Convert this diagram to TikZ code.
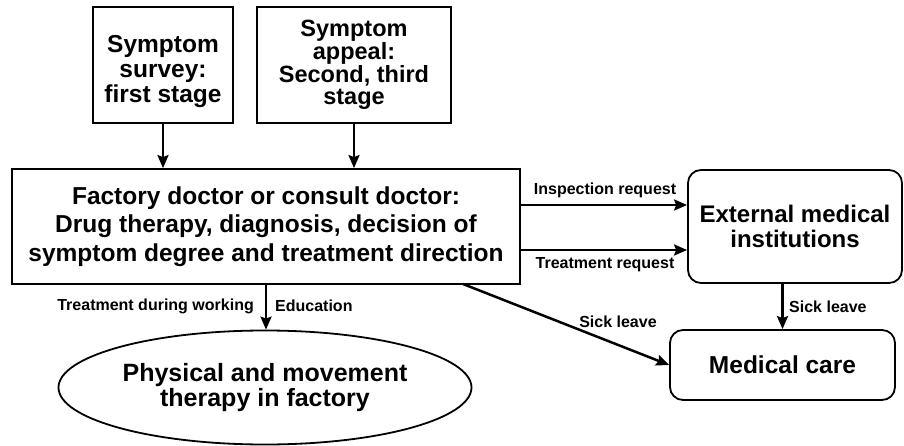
\documentclass[tikz,border=0pt]{standalone}
\usepackage{fontspec}
\setmainfont{Liberation Sans}
\usetikzlibrary{arrows.meta,shapes.geometric}
\begin{document}
\begin{tikzpicture}[x=1pt,y=-1pt,
  box/.style={draw,line width=1.8pt,inner sep=0pt,align=center,font=\bfseries\fontsize{23}{25}\selectfont},
  rbox/.style={box,rounded corners=13pt},
  arr/.style={line width=2.5pt,-{Stealth[length=13pt,width=11pt,inset=2pt]}},
  lbl/.style={inner sep=0pt,font=\bfseries\fontsize{16}{18}\selectfont}]
\useasboundingbox (0,0) rectangle (904,446);
\fill[white] (0,0) rectangle (904,446);

\node[box,minimum width=140pt,minimum height=116pt] (s1) at (163,65) {};
\node[inner sep=0pt,align=center,font=\bfseries\fontsize{24.5}{25}\selectfont] (s1t) at (163,72) {Symptom\\survey:\\first stage};
\node[box,minimum width=194pt,minimum height=116pt,font=\bfseries\fontsize{23.5}{22.7}\selectfont] (s2) at (354,65) {Symptom\\appeal:\\Second, third\\stage};
\node[box,minimum width=508pt,minimum height=115pt,font=\bfseries\fontsize{24.5}{28.5}\selectfont] (main) at (266,226.5) {Factory doctor or consult doctor:\\Drug therapy, diagnosis, decision of\\symptom degree and treatment direction};
\node[rbox,minimum width=214pt,minimum height=113pt,font=\bfseries\fontsize{24}{25}\selectfont] (ext) at (795,226.5) {External medical\\institutions};
\node[rbox,minimum width=225pt,minimum height=70pt,font=\bfseries\fontsize{24.5}{26}\selectfont] (med) at (782.5,365) {Medical care};
\node[draw,ellipse,line width=1.8pt,inner sep=0pt,minimum width=413pt,minimum height=114pt,align=center,font=\bfseries\fontsize{25}{23}\selectfont] (ell) at (265,387.5) {Physical and movement\\therapy in factory};

\coordinate (insp) at (0,205);
\coordinate (treat) at (0,250);
\coordinate (d0) at (463,284);

\draw[arr] (s1.south) -- (s1.south |- main.north);
\draw[arr] (s2.south) -- (s2.south |- main.north);
\draw[arr] (main.east |- insp) -- (ext.west |- insp);
\draw[arr] (main.east |- treat) -- (ext.west |- treat);
\draw[arr] (main.south) -- (main.south |- ell.north);
\draw[arr] (med.north |- ext.south) -- (med.north);
\draw[arr] (d0) -- (med.west);

\node[lbl] (l1) at (605,190) {Inspection request};
\node[lbl] (l2) at (605,265) {Treatment request};
\node[lbl,anchor=east] (l3) at (254,306) {Treatment during working};
\node[lbl,anchor=west] (l4) at (275,306) {Education};
\node[lbl] (l5) at (618,322) {Sick leave};
\node[lbl,anchor=west] (l6) at (789,307) {Sick leave};
\end{tikzpicture}
\end{document}
